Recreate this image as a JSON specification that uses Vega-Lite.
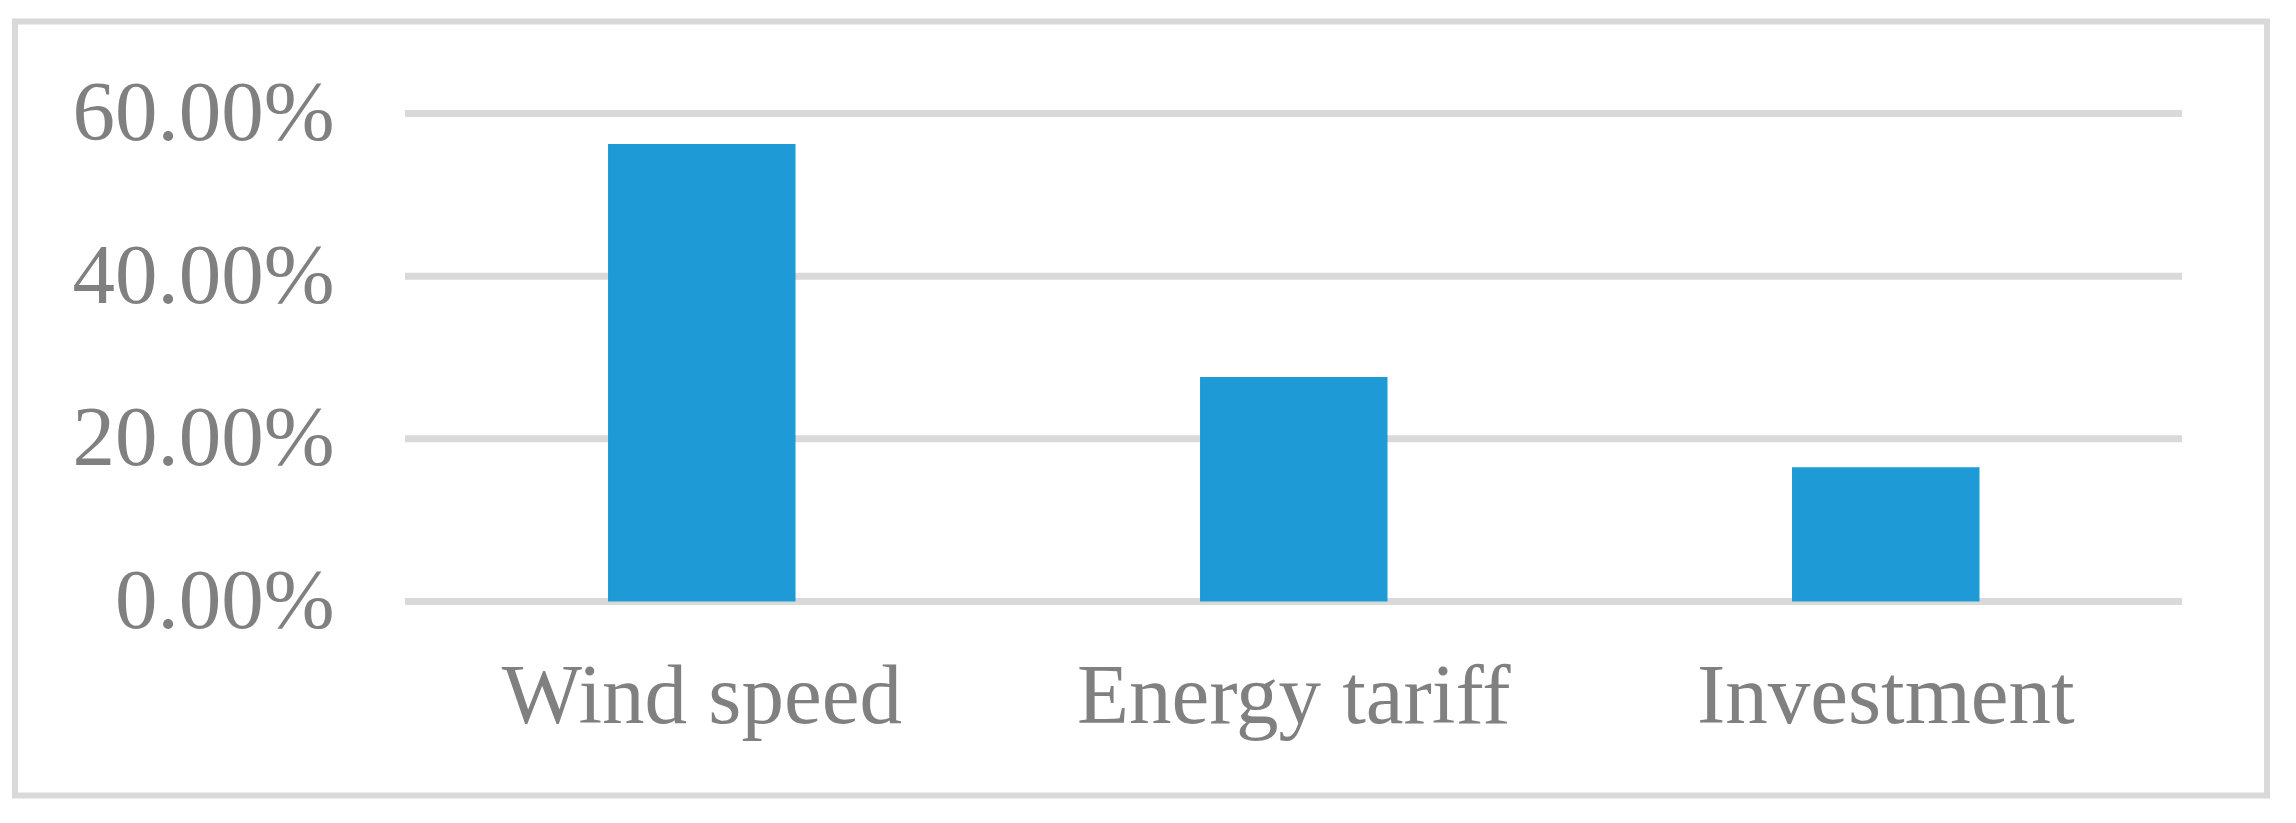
{
  "$schema": "https://vega.github.io/schema/vega-lite/v6.json",
  "autosize": {"type": "none"},
  "width": 2252,
  "height": 774,
  "padding": {"left": 15, "top": 21.5, "right": 29, "bottom": 27.5},
  "background": "white",
  "config": {
    "view": {"stroke": "#d9d9d9", "strokeWidth": 6},
    "axis": {
      "labelFont": "Liberation Serif",
      "labelFontSize": 85,
      "labelColor": "#808080",
      "labelLimit": 2000,
      "labelOverlap": false,
      "labelFlush": false,
      "domain": false,
      "ticks": false,
      "tickSize": 0,
      "grid": false,
      "title": null
    }
  },
  "datasets": {
    "bars": [
      {"factor": "Wind speed", "share": 0.5625},
      {"factor": "Energy tariff", "share": 0.276},
      {"factor": "Investment", "share": 0.165}
    ],
    "grid": [
      {"level": 0},
      {"level": 0.2},
      {"level": 0.4},
      {"level": 0.6}
    ]
  },
  "layer": [
    {
      "data": {"name": "grid"},
      "mark": {"type": "rule", "color": "#d9d9d9", "strokeWidth": 7},
      "encoding": {
        "x": {"datum": 0, "type": "quantitative", "scale": {"domain": [-0.21947, 1.04783], "nice": false, "zero": false}, "axis": null},
        "x2": {"datum": 1},
        "y": {"field": "level", "type": "quantitative", "scale": {"domain": [-0.2385, 0.7131], "nice": false, "zero": false},
          "axis": {"orient": "left", "values": [0, 0.2, 0.4, 0.6], "format": ".2%", "labelPadding": -319}}
      }
    },
    {
      "data": {"name": "bars"},
      "mark": {"type": "bar", "color": "#1e9bd7"},
      "encoding": {
        "x": {"field": "factor", "type": "nominal", "sort": null,
          "scale": {"paddingInner": 0.6833, "paddingOuter": 0.7437, "align": 0.6735},
          "axis": {"orient": "bottom", "labelAngle": 0, "labelPadding": -140}},
        "y": {"field": "share", "type": "quantitative"}
      }
    }
  ],
  "resolve": {"scale": {"x": "independent"}, "axis": {"x": "independent"}}
}
